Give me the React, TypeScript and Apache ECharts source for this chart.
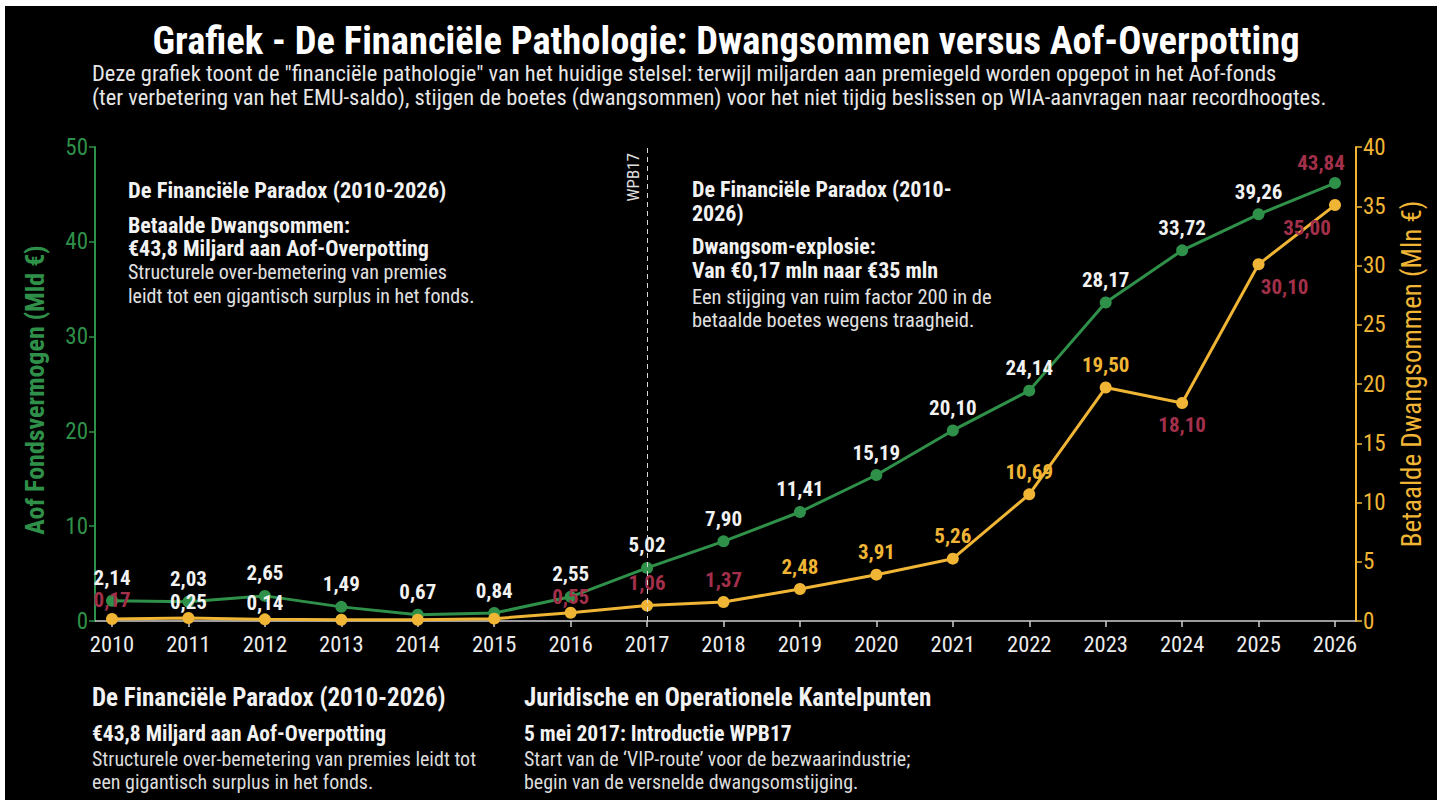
import React, { useEffect, useRef } from "react";
import * as echarts from "echarts";

const years = ["2010", "2011", "2012", "2013", "2014", "2015", "2016", "2017", "2018", "2019", "2020", "2021", "2022", "2023", "2024", "2025", "2026"];
const aofValues = [2.14, 2.03, 2.65, 1.49, 0.67, 0.84, 2.55, 5.6, 8.4, 11.5, 15.4, 20.1, 24.3, 33.6, 39.1, 42.9, 46.2];
const aofLabels = ["2,14", "2,03", "2,65", "1,49", "0,67", "0,84", "2,55", "5,02", "7,90", "11,41", "15,19", "20,10", "24,14", "28,17", "33,72", "39,26", "43,84"];
const dwangValues = [0.17, 0.25, 0.14, 0.1, 0.1, 0.2, 0.7, 1.3, 1.6, 2.7, 3.91, 5.26, 10.69, 19.7, 18.4, 30.1, 35.1];
const dwangLabels = ["0,17", "0,25", "0,14", "", "", "", "0,55", "1,06", "1,37", "2,48", "3,91", "5,26", "10,69", "19,50", "18,10", "30,10", "35,00"];
const leftAxisTicks = [0, 10, 20, 30, 40, 50];
const rightAxisTicks = [0, 5, 10, 15, 20, 25, 30, 35, 40];
const leftAxisName = "Aof Fondsvermogen (Mld €)";
const rightAxisName = "Betaalde Dwangsommen (Mln €)";

const title = "Grafiek - De Financiële Pathologie: Dwangsommen versus Aof-Overpotting";
const subtitleLines = [
  'Deze grafiek toont de "financiële pathologie" van het huidige stelsel: terwijl miljarden aan premiegeld worden opgepot in het Aof-fonds',
  "(ter verbetering van het EMU-saldo), stijgen de boetes (dwangsommen) voor het niet tijdig beslissen op WIA-aanvragen naar recordhoogtes.",
];
const noteLeft = {
  head: "De Financiële Paradox (2010-2026)",
  bold: ["Betaalde Dwangsommen:", "€43,8 Miljard aan Aof-Overpotting"],
  body: ["Structurele over-bemetering van premies", "leidt tot een gigantisch surplus in het fonds."],
};
const noteRight = {
  head: ["De Financiële Paradox (2010-", "2026)"],
  bold: ["Dwangsom-explosie:", "Van €0,17 mln naar €35 mln"],
  body: ["Een stijging van ruim factor 200 in de", "betaalde boetes wegens traagheid."],
};
const footLeft = {
  head: "De Financiële Paradox (2010-2026)",
  bold: "€43,8 Miljard aan Aof-Overpotting",
  body: ["Structurele over-bemetering van premies leidt tot", "een gigantisch surplus in het fonds."],
};
const footRight = {
  head: "Juridische en Operationele Kantelpunten",
  bold: "5 mei 2017: Introductie WPB17",
  body: ["Start van de \u2018VIP-route\u2019 voor de bezwaarindustrie;", "begin van de versnelde dwangsomstijging."],
};

const FONT = "'Roboto Condensed', 'Liberation Sans Narrow', 'Arial Narrow', 'DejaVu Sans Condensed', 'Open Sans', sans-serif";
const GREEN = "#2f9049";
const GOLD = "#f0b535";
const RED = "#a3304b";
const WHITE = "#f2f2f2";

const GRID_LEFT = 112;
const GRID_RIGHT = 107;
const GRID_TOP = 147;
const GRID_BOTTOM = 179;
const LEFT_OFFSET = 17;
const RIGHT_OFFSET = 21;

function txt(x: number, y: number, text: string, size: number, weight: string, color: string, align = "left", rotation = 0) {
  return {
    type: "text",
    x,
    y,
    rotation,
    silent: true,
    style: { text, fontSize: size, fontWeight: weight, fill: color, fontFamily: FONT, textAlign: align, textVerticalAlign: "middle" },
  };
}

export default function App() {
  const ref = useRef<HTMLDivElement>(null);
  useEffect(() => {
    document.body.style.margin = "0";
    const chart = echarts.init(ref.current!, null, { renderer: "svg" });

    const aofOverrides: Record<number, any> = { 16: { color: RED, offset: [-14, 2] } };
    const dwangOverrides: Record<number, any> = {
      0: { color: RED, offset: [0, 4] },
      1: { color: WHITE, offset: [0, 6] },
      2: { color: WHITE, offset: [0, 6] },
      6: { color: RED, offset: [0, 7] },
      7: { color: RED },
      8: { color: RED },
      14: { color: RED, position: "bottom" },
      15: { color: RED, position: "bottom", offset: [26, 0] },
      16: { color: RED, position: "bottom", offset: [-28, 0] },
    };

    const aofData = aofValues.map((v, i) => ({
      value: v,
      label: { formatter: aofLabels[i], ...(aofOverrides[i] || {}) },
    }));
    const dwangData = dwangValues.map((v, i) => ({
      value: v,
      label: { show: dwangLabels[i] !== "", formatter: dwangLabels[i], ...(dwangOverrides[i] || {}) },
    }));

    const graphic: any[] = [
      { type: "rect", z: -100, silent: true, shape: { x: 5, y: 6, width: 1432, height: 800 }, style: { fill: "#000" } },
      txt(726, 40, title, 38.5, "bold", "#ffffff", "center"),
      txt(92, 73, subtitleLines[0], 22.5, "normal", "#e6e6e6"),
      txt(92, 97, subtitleLines[1], 22.5, "normal", "#e6e6e6"),
      {
        type: "line",
        silent: true,
        z: 1,
        shape: { x1: GRID_LEFT - LEFT_OFFSET, y1: 800 - GRID_BOTTOM, x2: 1442 - GRID_RIGHT + RIGHT_OFFSET, y2: 800 - GRID_BOTTOM },
        style: { stroke: "#cfcfcf", lineWidth: 1.5 },
      },
      txt(35, 390, leftAxisName, 26, "bold", GREEN, "center", Math.PI / 2),
      txt(1412, 374, rightAxisName, 27, "normal", GOLD, "center", Math.PI / 2),
      txt(128, 190, noteLeft.head, 22.5, "bold", WHITE),
      txt(128, 225, noteLeft.bold[0], 22, "bold", WHITE),
      txt(128, 248, noteLeft.bold[1], 22, "bold", WHITE),
      txt(128, 272, noteLeft.body[0], 20, "normal", "#e0e0e0"),
      txt(128, 296, noteLeft.body[1], 20, "normal", "#e0e0e0"),
      txt(692, 189, noteRight.head[0], 22, "bold", WHITE),
      txt(692, 213, noteRight.head[1], 22, "bold", WHITE),
      txt(692, 246, noteRight.bold[0], 22, "bold", WHITE),
      txt(692, 270, noteRight.bold[1], 22, "bold", WHITE),
      txt(692, 297, noteRight.body[0], 20.5, "normal", "#e0e0e0"),
      txt(692, 320, noteRight.body[1], 20.5, "normal", "#e0e0e0"),
      txt(92, 697, footLeft.head, 25, "bold", WHITE),
      txt(92, 733, footLeft.bold, 21.5, "bold", WHITE),
      txt(92, 759, footLeft.body[0], 20, "normal", "#dcdcdc"),
      txt(92, 782, footLeft.body[1], 20, "normal", "#dcdcdc"),
      txt(524, 697, footRight.head, 25, "bold", WHITE),
      txt(524, 733, footRight.bold, 21.5, "bold", WHITE),
      txt(524, 759, footRight.body[0], 20, "normal", "#dcdcdc"),
      txt(524, 782, footRight.body[1], 20, "normal", "#dcdcdc"),
    ];

    chart.setOption({
      animation: false,
      backgroundColor: "#ffffff",
      textStyle: { fontFamily: FONT },
      grid: { left: GRID_LEFT, right: GRID_RIGHT, top: GRID_TOP, bottom: GRID_BOTTOM, containLabel: false },
      xAxis: {
        type: "category",
        data: years,
        boundaryGap: false,
        axisLine: { show: false },
        axisTick: { show: true, length: 6, lineStyle: { color: "#cfcfcf", width: 1.5 } },
        axisLabel: { color: "#ececec", fontSize: 22.5, margin: 11, fontFamily: FONT },
        splitLine: { show: false },
      },
      yAxis: [
        {
          type: "value",
          position: "left",
          min: leftAxisTicks[0],
          max: leftAxisTicks[leftAxisTicks.length - 1],
          interval: leftAxisTicks[1] - leftAxisTicks[0],
          offset: LEFT_OFFSET,
          axisLine: { show: true, lineStyle: { color: GREEN, width: 2 } },
          axisTick: { show: true, length: 6, lineStyle: { color: GREEN, width: 1.5 } },
          axisLabel: { color: GREEN, fontSize: 23, margin: 7, fontFamily: FONT },
          splitLine: { show: false },
        },
        {
          type: "value",
          position: "right",
          min: rightAxisTicks[0],
          max: rightAxisTicks[rightAxisTicks.length - 1],
          interval: rightAxisTicks[1] - rightAxisTicks[0],
          offset: RIGHT_OFFSET,
          axisLine: { show: true, lineStyle: { color: GOLD, width: 2 } },
          axisTick: { show: true, length: 6, lineStyle: { color: GOLD, width: 1.5 } },
          axisLabel: { color: GOLD, fontSize: 23, margin: 7, fontFamily: FONT },
          splitLine: { show: false },
        },
      ],
      series: [
        {
          name: "Aof Fondsvermogen",
          type: "line",
          yAxisIndex: 0,
          data: aofData,
          z: 3,
          symbol: "circle",
          symbolSize: 12,
          lineStyle: { color: GREEN, width: 3 },
          itemStyle: { color: GREEN },
          label: { show: true, position: "top", distance: 6, color: WHITE, fontSize: 21, fontWeight: "bold", fontFamily: FONT },
          markLine: {
            silent: true,
            symbol: "none",
            data: [{ xAxis: "2017" }],
            lineStyle: { color: "#d8d8d8", type: [5, 4], width: 1 },
            label: { show: true, formatter: "WPB17", position: "insideEndTop", color: "#e0e0e0", fontSize: 17, fontFamily: FONT, distance: 6 },
          },
        },
        {
          name: "Betaalde Dwangsommen",
          type: "line",
          yAxisIndex: 1,
          data: dwangData,
          z: 4,
          symbol: "circle",
          symbolSize: 12,
          lineStyle: { color: GOLD, width: 3 },
          itemStyle: { color: GOLD },
          label: { show: true, position: "top", distance: 6, color: GOLD, fontSize: 21, fontWeight: "bold", fontFamily: FONT },
        },
      ],
      graphic,
    });
    return () => chart.dispose();
  }, []);
  return <div ref={ref} style={{ width: 1442, height: 800 }} />;
}
